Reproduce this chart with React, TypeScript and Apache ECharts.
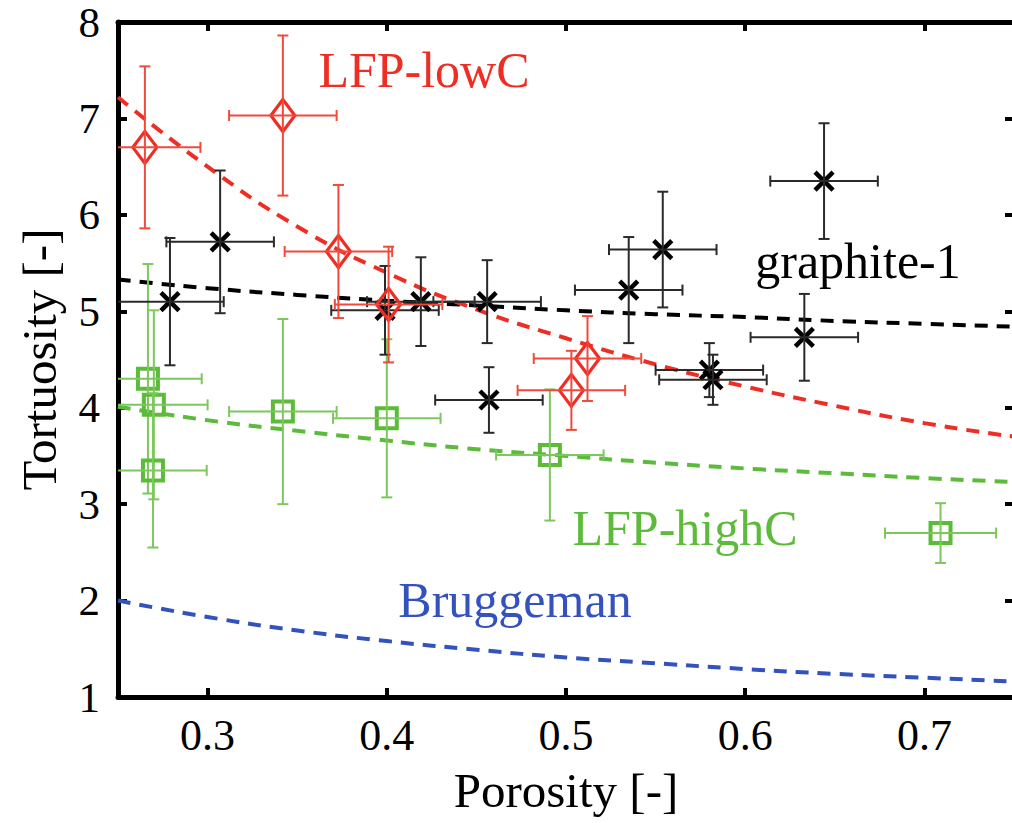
import React, { useEffect, useRef } from "react";
import * as echarts from "echarts";

// ---- data ----
const xTicks = [0.3, 0.4, 0.5, 0.6, 0.7];

// LFP-lowC (red diamonds)
const lowCX = [0.265, 0.342, 0.373, 0.401, 0.512, 0.503];
const lowCY = [6.7, 7.03, 5.62, 5.07, 4.51, 4.18];
const lowCXErr = [0.031, 0.03, 0.03, 0.03, 0.03, 0.03];
const lowCYErr = [0.84, 0.83, 0.69, 0.6, 0.44, 0.41];

// graphite-1 (black crosses)
const grX = [0.279, 0.307, 0.399, 0.419, 0.456, 0.457, 0.535, 0.554, 0.58, 0.582, 0.633, 0.644];
const grY = [5.1, 5.72, 5.01, 5.1, 5.1, 4.08, 5.22, 5.64, 4.39, 4.29, 4.73, 6.35];
const grXErr = [0.03, 0.03, 0.03, 0.03, 0.03, 0.03, 0.03, 0.03, 0.03, 0.03, 0.03, 0.03];
const grYErr = [0.66, 0.74, 0.46, 0.46, 0.43, 0.34, 0.55, 0.6, 0.28, 0.26, 0.45, 0.6];

// LFP-highC (green squares)
const hiCX = [0.2667, 0.27, 0.2695, 0.342, 0.4, 0.491, 0.709];
const hiCY = [4.3, 4.03, 3.35, 3.96, 3.89, 3.51, 2.7];
const hiCXErr = [0.03, 0.03, 0.03, 0.03, 0.03, 0.03, 0.031];
const hiCYErr = [1.19, 0.98, 0.8, 0.96, 0.82, 0.68, 0.31];

// fitted dashed curves
const fitX = [0.25, 0.3, 0.35, 0.4, 0.45, 0.5, 0.55, 0.6, 0.65, 0.7, 0.75];
const fitLowC = [7.22, 6.5, 5.88, 5.4, 5.02, 4.72, 4.45, 4.22, 4.02, 3.84, 3.7];
const fitGraphite = [5.33, 5.24, 5.17, 5.11, 5.06, 5.01, 4.97, 4.94, 4.9, 4.87, 4.84];
const fitHighC = [4.01, 3.87, 3.76, 3.66, 3.57, 3.5, 3.43, 3.37, 3.32, 3.27, 3.23];
const fitBrugg = [2.0, 1.83, 1.69, 1.58, 1.49, 1.41, 1.35, 1.29, 1.24, 1.2, 1.16];

const X_MIN = 0.25;
const X_MAX = 0.75;
const FONT = "Liberation Serif, Times New Roman, DejaVu Serif, serif";

const RED = "#ee2e24";
const GREEN = "#5cbb3a";
const GREEN_BAR = "#7cc85c";
const BLUE = "#3352bd";

type Marker = "diamond" | "square" | "cross";

function errSeries(
  name: string,
  xs: number[],
  ys: number[],
  xe: number[],
  ye: number[],
  color: string,
  barColor: string,
  marker: Marker
) {
  const data = xs.map((x, i) => [x, ys[i], xe[i], ye[i]]);
  return {
    name,
    type: "custom",
    z: 5,
    data,
    renderItem: (params: any, api: any) => {
      const x = api.value(0);
      const y = api.value(1);
      const dx = api.value(2);
      const dy = api.value(3);
      const xl = Math.max(x - dx, X_MIN);
      const xr = Math.min(x + dx, X_MAX);
      const c = api.coord([x, y]);
      const pL = api.coord([xl, y]);
      const pR = api.coord([xr, y]);
      const pT = api.coord([x, y + dy]);
      const pB = api.coord([x, y - dy]);
      const cap = 5.5;
      const bar = { stroke: barColor, lineWidth: 2 };
      const children: any[] = [];
      if (marker === "diamond") {
        children.push({
          type: "polygon",
          shape: {
            points: [
              [c[0], c[1] - 16],
              [c[0] + 12, c[1]],
              [c[0], c[1] + 16],
              [c[0] - 12, c[1]],
            ],
          },
          style: { fill: "none", stroke: color, lineWidth: 3.2 },
        });
      } else if (marker === "square") {
        children.push({
          type: "rect",
          shape: { x: c[0] - 10, y: c[1] - 10, width: 20, height: 20 },
          style: { fill: "none", stroke: color, lineWidth: 4 },
        });
      } else {
        const h = 9;
        children.push({
          type: "line",
          shape: { x1: c[0] - h, y1: c[1] - h, x2: c[0] + h, y2: c[1] + h },
          style: { stroke: color, lineWidth: 4.5 },
        });
        children.push({
          type: "line",
          shape: { x1: c[0] - h, y1: c[1] + h, x2: c[0] + h, y2: c[1] - h },
          style: { stroke: color, lineWidth: 4.5 },
        });
      }
      children.push({ type: "line", shape: { x1: pL[0], y1: pL[1], x2: pR[0], y2: pR[1] }, style: bar });
      children.push({ type: "line", shape: { x1: pT[0], y1: pT[1], x2: pB[0], y2: pB[1] }, style: bar });
      if (x - dx > X_MIN) {
        children.push({ type: "line", shape: { x1: pL[0], y1: pL[1] - cap, x2: pL[0], y2: pL[1] + cap }, style: bar });
      }
      children.push({ type: "line", shape: { x1: pR[0], y1: pR[1] - cap, x2: pR[0], y2: pR[1] + cap }, style: bar });
      children.push({ type: "line", shape: { x1: pT[0] - cap, y1: pT[1], x2: pT[0] + cap, y2: pT[1] }, style: bar });
      children.push({ type: "line", shape: { x1: pB[0] - cap, y1: pB[1], x2: pB[0] + cap, y2: pB[1] }, style: bar });
      return { type: "group", children };
    },
  };
}

function fitSeries(name: string, ys: number[], color: string) {
  return {
    name,
    type: "line",
    z: 3,
    data: fitX.map((x, i) => [x, ys[i]]),
    smooth: true,
    showSymbol: false,
    symbol: "none",
    lineStyle: { color, width: 4, type: [13, 9] },
  };
}

const axisLine = { show: true, onZero: false, lineStyle: { color: "#000", width: 5 } };
const tick = { show: true, inside: true, length: 9, lineStyle: { color: "#000", width: 4 } };

function annot(text: string, x: number, y: number, color: string, size: number) {
  return {
    type: "text",
    x,
    y,
    z: 10,
    style: {
      text,
      fill: color,
      font: `${size}px ${FONT}`,
      fontSize: size,
      fontFamily: FONT,
      align: "center",
      verticalAlign: "middle",
      textAlign: "center",
      textVerticalAlign: "middle",
    },
  };
}

export default function App() {
  const ref = useRef<HTMLDivElement>(null);
  useEffect(() => {
    if (!ref.current) return;
    const chart = echarts.init(ref.current, null, { renderer: "svg" });
    const xBase = {
      type: "value",
      min: X_MIN,
      max: X_MAX,
      splitLine: { show: false },
      axisLine,
    };
    const yBase = {
      type: "value",
      min: 1,
      max: 8,
      interval: 1,
      splitLine: { show: false },
      axisLine,
      axisTick: tick,
    };
    chart.setOption({
      animation: false,
      backgroundColor: "#fff",
      textStyle: { fontFamily: FONT },
      grid: {
        left: 118,
        right: -2,
        top: 22,
        bottom: 126,
        containLabel: false,
        outerBoundsMode: "none",
      },
      xAxis: [
        {
          ...xBase,
          position: "bottom",
          axisTick: { ...tick, customValues: xTicks },
          axisLabel: {
            customValues: xTicks,
            color: "#000",
            fontSize: 44,
            fontFamily: FONT,
            margin: 16,
          },
          name: "Porosity [-]",
          nameLocation: "middle",
          nameGap: 69,
          nameTextStyle: { color: "#000", fontSize: 49, fontFamily: FONT },
        },
        {
          ...xBase,
          position: "top",
          axisTick: { ...tick, customValues: xTicks },
          axisLabel: { show: false },
        },
      ],
      yAxis: [
        {
          ...yBase,
          position: "left",
          axisLabel: { color: "#000", fontSize: 43, fontFamily: FONT, margin: 18 },
          name: "Tortuosity [-]",
          nameLocation: "middle",
          nameGap: 54,
          nameRotate: 90,
          nameTextStyle: { color: "#000", fontSize: 49, fontFamily: FONT },
        },
        {
          ...yBase,
          position: "right",
          axisLabel: { show: false },
        },
      ],
      series: [
        fitSeries("Bruggeman fit", fitBrugg, BLUE),
        fitSeries("LFP-highC fit", fitHighC, GREEN),
        fitSeries("graphite-1 fit", fitGraphite, "#000"),
        fitSeries("LFP-lowC fit", fitLowC, RED),
        errSeries("LFP-highC", hiCX, hiCY, hiCXErr, hiCYErr, GREEN, GREEN_BAR, "square"),
        errSeries("graphite-1", grX, grY, grXErr, grYErr, "#000", "#2a2a2a", "cross"),
        errSeries("LFP-lowC", lowCX, lowCY, lowCXErr, lowCYErr, RED, "#f04a3c", "diamond"),
      ],
      graphic: [
        annot("LFP-lowC", 424, 70, RED, 50),
        annot("graphite-1", 858, 261, "#000", 50),
        annot("LFP-highC", 685, 528, GREEN, 50),
        annot("Bruggeman", 515, 600, BLUE, 50),
      ],
    });
    return () => chart.dispose();
  }, []);
  return (
    <div
      ref={ref}
      style={{ position: "fixed", left: 0, top: 0, width: 1012, height: 823, background: "#fff" }}
    />
  );
}
